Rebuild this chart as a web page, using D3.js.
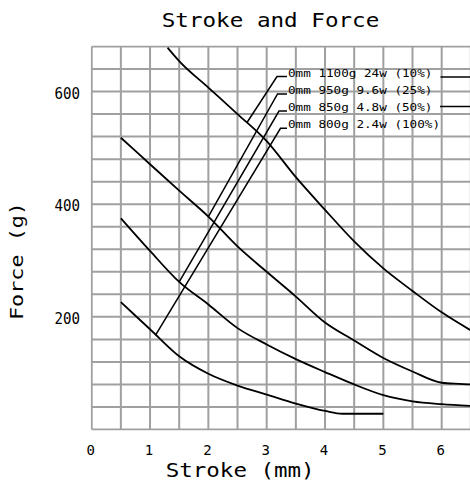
<!DOCTYPE html>
<html><head><meta charset="utf-8">
<script src="https://cdn.jsdelivr.net/npm/d3@7"></script>
<style>html,body{margin:0;padding:0;background:#fff;overflow:hidden}</style>
</head><body>
<svg id="chart" width="470" height="482"></svg>
<script>
// ---- data ----
const titleText = "Stroke and Force";
const xLabel = "Stroke (mm)";
const yLabel = "Force (g)";
const xTicks = [0, 1, 2, 3, 4, 5, 6];
const yTicks = [200, 400, 600];
const legendLabels = ["0mm 1100g 24w (10%)", "0mm 950g 9.6w (25%)", "0mm 850g 4.8w (50%)", "0mm 800g 2.4w (100%)"];
const strokeA = [1.3, 1.5, 2.0, 2.5, 3.0, 3.5, 4.0, 4.5, 5.0, 5.5, 6.0, 6.5];
const forceA  = [678, 654, 607, 560, 512, 448, 390, 334, 286, 246, 208, 176];
const strokeB = [0.5, 1.0, 1.5, 2.0, 2.5, 3.0, 3.5, 4.0, 4.5, 5.0, 5.5, 6.0, 6.3, 6.5];
const forceB  = [518, 471, 424, 378, 325, 280, 236, 190, 158, 127, 103, 83, 81, 80];
const strokeC = [0.5, 1.0, 1.5, 2.0, 2.5, 3.0, 3.5, 4.0, 4.5, 5.0, 5.5, 6.0, 6.5];
const forceC  = [375, 317, 262, 222, 180, 151, 125, 102, 80, 61, 50, 45, 42];
const strokeD = [0.5, 1.0, 1.5, 2.0, 2.5, 3.0, 3.5, 4.0, 4.3, 5.0];
const forceD  = [226, 178, 130, 99, 78, 62, 46, 33, 28, 28];
const leaderStroke = [2.66, 2.0, 1.5, 1.1];

(function () {
// ---- layout ----
const W = 470, H = 482;
const pLeft = 91.7, pTop = 46.5, pBottom = 429.5;
const pxPerMm = 58.33;
const xMax = 6.6;
const svg = d3.select("#chart");
const FONT = "'DejaVu Sans Mono', 'Liberation Mono', monospace";

const x = d3.scaleLinear().domain([0, xMax]).range([pLeft, pLeft + xMax * pxPerMm]);
const y = d3.scaleLinear().domain([0, 680]).range([pBottom, pTop]);

svg.append("defs").append("clipPath").attr("id", "plotclip")
  .append("rect").attr("x", pLeft - 1).attr("y", pTop - 1)
  .attr("width", W - pLeft + 1).attr("height", pBottom - pTop + 2);

// grid
const grid = svg.append("g").attr("clip-path", "url(#plotclip)");
grid.selectAll("line.v").data(d3.range(0, xMax + 0.001, 0.5)).join("line")
  .attr("class", "v")
  .attr("x1", d => x(d)).attr("x2", d => x(d)).attr("y1", pTop).attr("y2", pBottom)
  .attr("stroke", "#a0a0a0").attr("stroke-width", 2);
grid.selectAll("line.h").data(d3.range(0, 681, 40)).join("line")
  .attr("class", "h")
  .attr("y1", d => y(d)).attr("y2", d => y(d)).attr("x1", pLeft).attr("x2", W + 5)
  .attr("stroke", "#a0a0a0").attr("stroke-width", 2);

// curves
const series = [[strokeA, forceA], [strokeB, forceB], [strokeC, forceC], [strokeD, forceD]];
const line = d3.line().x(d => x(d[0])).y(d => y(d[1])).curve(d3.curveMonotoneX);
const curves = svg.append("g").attr("clip-path", "url(#plotclip)");
series.forEach(([sx, sy]) => {
  const pts = sx.map((v, i) => [v, sy[i]]);
  curves.append("path").attr("d", line(pts)).attr("fill", "none")
    .attr("stroke", "#000").attr("stroke-width", 1.8);
});

function interp(sx, sy, v) {
  for (let i = 0; i < sx.length - 1; i++) {
    if (v >= sx[i] && v <= sx[i + 1]) {
      const t = (v - sx[i]) / (sx[i + 1] - sx[i]);
      return sy[i] + t * (sy[i + 1] - sy[i]);
    }
  }
  return sy[sy.length - 1];
}

// legend + leaders
const textX = 288;
const baseY = [76.5, 94, 111, 128.3];
const elbowX = [277, 277.5, 279, 280.5];
const legend = svg.append("g");
legendLabels.forEach((lab, i) => {
  legend.append("text").attr("x", textX).attr("y", baseY[i])
    .attr("font-family", FONT).attr("font-size", 10.5)
    .attr("textLength", lab.length * 7.6).attr("lengthAdjust", "spacingAndGlyphs")
    .text(lab);
  const [sx, sy] = series[i];
  const tx = x(leaderStroke[i]), ty = y(interp(sx, sy, leaderStroke[i]));
  legend.append("polyline")
    .attr("points", `${textX - 1},${baseY[i]} ${elbowX[i]},${baseY[i]} ${tx},${ty}`)
    .attr("fill", "none").attr("stroke", "#000").attr("stroke-width", 1.5);
});
legend.append("line").attr("x1", 440.5).attr("x2", W).attr("y1", 77).attr("y2", 77)
  .attr("stroke", "#000").attr("stroke-width", 1.5);
legend.append("line").attr("x1", 440).attr("x2", W).attr("y1", 106.5).attr("y2", 106.5)
  .attr("stroke", "#000").attr("stroke-width", 1.5);

// axis tick labels
svg.append("g").selectAll("text").data(xTicks).join("text")
  .attr("x", d => x(d) - 1).attr("y", 455)
  .attr("text-anchor", "middle").attr("font-family", FONT).attr("font-size", 14)
  .text(d => d);
svg.append("g").selectAll("text").data(yTicks).join("text")
  .attr("x", 80).attr("y", d => y(d) + 7)
  .attr("text-anchor", "end").attr("font-family", FONT).attr("font-size", 15)
  .attr("textLength", 25.5).attr("lengthAdjust", "spacingAndGlyphs")
  .text(d => d);

// titles
svg.append("text").attr("x", 161.7).attr("y", 26.7)
  .attr("font-family", FONT).attr("font-size", 19)
  .attr("textLength", titleText.length * 13.6).attr("lengthAdjust", "spacingAndGlyphs")
  .text(titleText);
svg.append("text").attr("x", 165.7).attr("y", 476.5)
  .attr("font-family", FONT).attr("font-size", 19)
  .attr("textLength", 149).attr("lengthAdjust", "spacingAndGlyphs")
  .text(xLabel);
svg.append("text").attr("transform", "translate(23.3,320) rotate(-90)")
  .attr("x", 0).attr("y", 0)
  .attr("font-family", FONT).attr("font-size", 18)
  .attr("textLength", 118).attr("lengthAdjust", "spacingAndGlyphs")
  .text(yLabel);
})();
</script>
</body></html>
